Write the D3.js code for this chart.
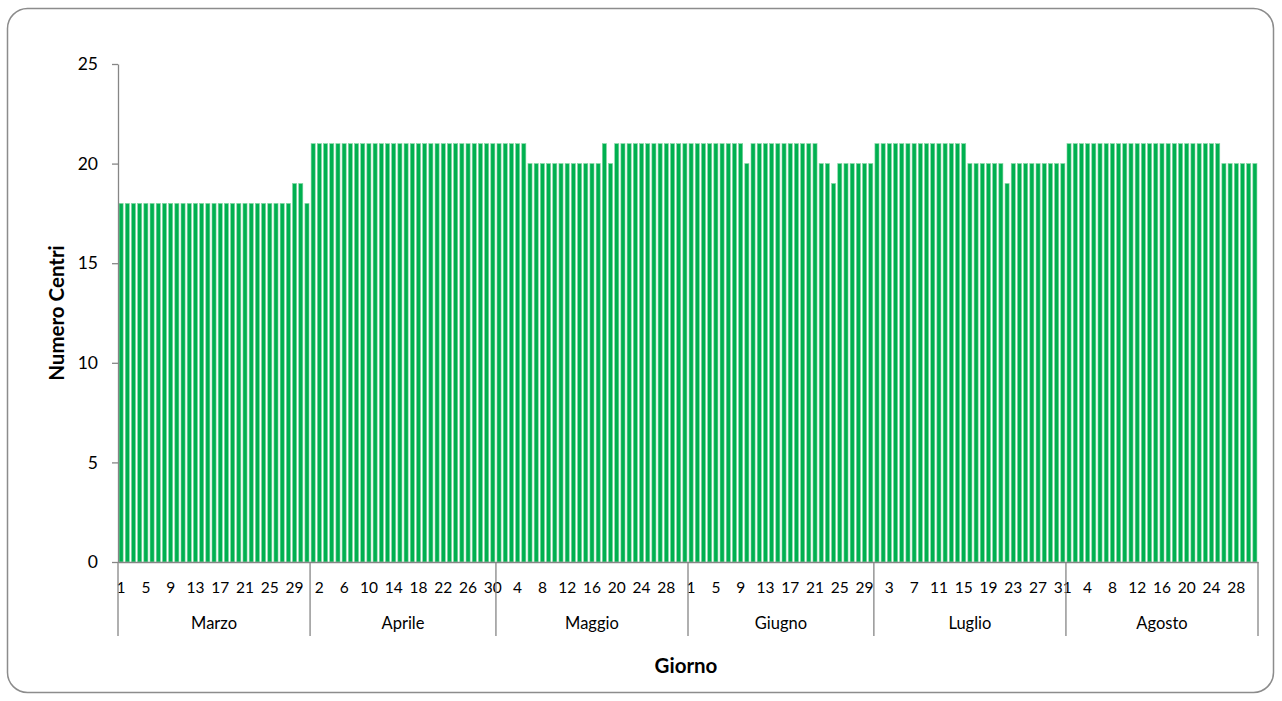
<!DOCTYPE html>
<html>
<head>
<meta charset="utf-8">
<script src="https://cdn.jsdelivr.net/npm/d3@7"></script>
<style>
  html, body { margin: 0; padding: 0; background: #fff; }
  svg { display: block; }
  text { font-family: Lato, "Open Sans", sans-serif; fill: #000; }
</style>
</head>
<body>
<svg id="chart" width="1282" height="701"></svg>
<script>
// Daily number of active centres, March to August
const months = ["Marzo", "Aprile", "Maggio", "Giugno", "Luglio", "Agosto"];

const marzo = [18,18,18,18,18,18,18,18,18,18,18,18,18,18,18,18,18,18,18,18,18,18,18,18,18,18,18,18,19,19,18];
const aprile = [21,21,21,21,21,21,21,21,21,21,21,21,21,21,21,21,21,21,21,21,21,21,21,21,21,21,21,21,21,21];
const maggio = [21,21,21,21,21,20,20,20,20,20,20,20,20,20,20,20,20,21,20,21,21,21,21,21,21,21,21,21,21,21,21];
const giugno = [21,21,21,21,21,21,21,21,21,20,21,21,21,21,21,21,21,21,21,21,21,20,20,19,20,20,20,20,20,20];
const luglio = [21,21,21,21,21,21,21,21,21,21,21,21,21,21,21,20,20,20,20,20,20,19,20,20,20,20,20,20,20,20,20];
const agosto = [21,21,21,21,21,21,21,21,21,21,21,21,21,21,21,21,21,21,21,21,21,21,21,21,21,20,20,20,20,20,20];

const yTicks = [0, 5, 10, 15, 20, 25];
const yTitle = "Numero Centri";
const xTitle = "Giorno";

// Flatten into one record per day
const monthValues = [marzo, aprile, maggio, giugno, luglio, agosto];
const data = [];
monthValues.forEach((vals, m) => {
  vals.forEach((v, i) => data.push({ key: m + "-" + (i + 1), month: m, day: i + 1, value: v }));
});

const svg = d3.select("#chart");
const plotLeft = 118, plotRight = 1258, plotTop = 64, plotBottom = 562;
const axisColor = "#868686";
const fontStack = "Lato, 'Open Sans', sans-serif";

// Rounded chart frame
svg.append("rect")
  .attr("x", 7.5).attr("y", 8.5)
  .attr("width", 1266).attr("height", 684)
  .attr("rx", 20).attr("ry", 20)
  .attr("fill", "#fff").attr("stroke", "#8c8c8c").attr("stroke-width", 1.5);

const x = d3.scaleBand()
  .domain(data.map(d => d.key))
  .range([plotLeft, plotRight])
  .paddingInner(0.34)
  .paddingOuter(0.17);

const y = d3.scaleLinear().domain([0, 25]).range([plotBottom, plotTop]);

// Bars
svg.append("g").selectAll("rect")
  .data(data)
  .join("rect")
  .attr("x", d => x(d.key))
  .attr("y", d => y(d.value))
  .attr("width", x.bandwidth())
  .attr("height", d => y(0) - y(d.value))
  .attr("fill", "#00b050")
  .attr("stroke", "#7fd6a0")
  .attr("stroke-width", 0.6);

// Y axis
const yAxis = svg.append("g")
  .attr("transform", `translate(${plotLeft},0)`)
  .call(d3.axisLeft(y).tickValues(yTicks).tickSize(6).tickPadding(14).tickSizeOuter(0));
yAxis.select(".domain").attr("stroke", axisColor).attr("stroke-width", 1.3);
yAxis.selectAll(".tick line").attr("stroke", axisColor).attr("stroke-width", 1.3);
yAxis.selectAll(".tick text")
  .attr("font-size", 17.5)
  .style("font-family", fontStack)
  .attr("fill", "#000");

// X axis: day labels every fourth day
const xAxis = svg.append("g")
  .attr("transform", `translate(0,${plotBottom})`)
  .call(d3.axisBottom(x)
    .tickValues(data.filter((d, i) => i % 4 === 0).map(d => d.key))
    .tickFormat(k => k.split("-")[1])
    .tickSize(0).tickSizeOuter(0));
xAxis.select(".domain").attr("stroke", axisColor).attr("stroke-width", 1.3);
xAxis.selectAll(".tick text")
  .attr("y", 31).attr("dy", 0)
  .attr("font-size", 15.5)
  .style("font-family", fontStack)
  .attr("fill", "#000");

// Month groups: separators and centred names
const groups = months.map((name, m) => {
  const days = data.filter(d => d.month === m);
  const x0 = x(days[0].key) - x.step() * x.paddingInner() / 2;
  const x1 = x(days[days.length - 1].key) + x.bandwidth() + x.step() * x.paddingInner() / 2;
  return { name, x0, x1 };
});
const bounds = [groups[0].x0, ...groups.map(g => g.x1)];
svg.append("g").selectAll("line")
  .data(bounds)
  .join("line")
  .attr("x1", d => d).attr("x2", d => d)
  .attr("y1", plotBottom).attr("y2", 636)
  .attr("stroke", axisColor).attr("stroke-width", 1.3);
svg.append("g").selectAll("text")
  .data(groups)
  .join("text")
  .attr("x", d => (d.x0 + d.x1) / 2)
  .attr("y", 629)
  .attr("text-anchor", "middle")
  .attr("font-size", 16.5)
  .text(d => d.name);

// Axis titles
svg.append("text")
  .attr("transform", `translate(64,${(plotTop + plotBottom) / 2}) rotate(-90)`)
  .attr("text-anchor", "middle")
  .attr("font-size", 20.5)
  .attr("font-weight", "bold")
  .text(yTitle);
svg.append("text")
  .attr("x", (plotLeft + plotRight) / 2 - 2)
  .attr("y", 673)
  .attr("text-anchor", "middle")
  .attr("font-size", 20.5)
  .attr("font-weight", "bold")
  .text(xTitle);
</script>
</body>
</html>
